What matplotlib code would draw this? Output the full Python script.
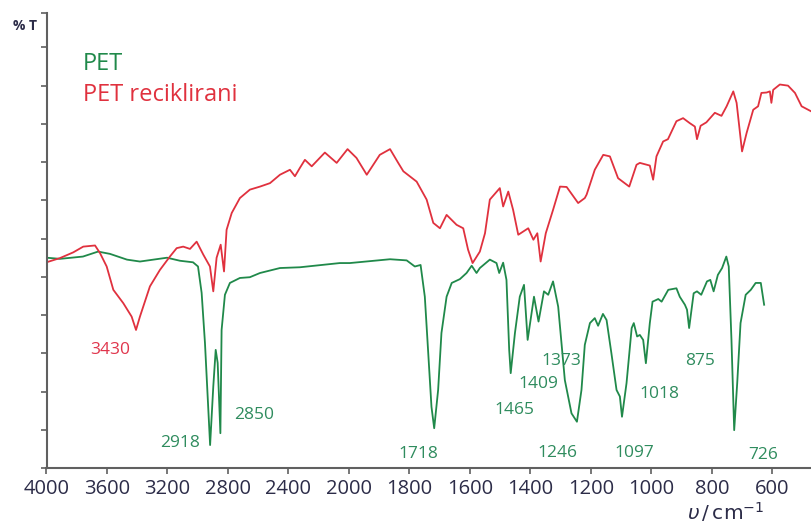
import numpy as np
import matplotlib.pyplot as plt
from matplotlib.scale import FuncScale

# PET spectrum (wavenumber cm-1, %T)
pet_wn = [4000, 3911, 3759, 3659, 3580, 3468, 3382, 3203, 3117, 3031, 2998, 2974,
          2952, 2918, 2897, 2881, 2868, 2850, 2842, 2820, 2787, 2721, 2655, 2588,
          2456, 2324, 2060, 1997, 1864, 1809, 1782, 1763, 1749, 1743, 1727, 1718,
          1705, 1694, 1677, 1660, 1633, 1611, 1594, 1578, 1567, 1534, 1512, 1503,
          1490, 1479, 1470, 1465, 1451, 1435, 1421, 1409, 1388, 1373, 1355, 1341,
          1325, 1308, 1286, 1264, 1246, 1231, 1220, 1203, 1187, 1176, 1160, 1148,
          1132, 1115, 1104, 1097, 1082, 1065, 1058, 1047, 1038, 1027, 1018, 1005,
          996, 977, 966, 944, 917, 906, 889, 882, 875, 860, 849, 835, 816, 805,
          794, 780, 766, 752, 744, 735, 726, 716, 705, 688, 671, 655, 638, 627]
pet_t = [55.0, 54.7, 55.3, 56.6, 56.0, 54.5, 54.0, 55.0, 54.2, 53.8, 52.7, 45.8,
         32.7, 6.0, 21.3, 30.9, 27.5, 9.1, 36.1, 45.3, 48.4, 49.7, 49.9, 51.0,
         52.3, 52.5, 53.6, 53.6, 54.6, 54.3, 52.7, 53.1, 44.8, 37.0, 16.0, 10.4,
         20.4, 35.3, 44.8, 48.4, 49.4, 51.0, 52.9, 51.0, 52.3, 54.5, 53.6, 51.0,
         53.7, 49.2, 30.9, 24.8, 35.3, 44.8, 47.9, 33.5, 44.8, 38.3, 46.2, 45.3,
         48.8, 42.2, 23.0, 14.3, 12.1, 20.4, 32.2, 37.9, 39.2, 37.2, 40.3, 38.7,
         30.0, 20.4, 18.7, 13.4, 22.2, 36.6, 37.9, 34.4, 34.8, 33.5, 27.4, 37.9,
         43.5, 44.2, 43.5, 46.6, 47.0, 44.8, 42.7, 41.4, 36.6, 45.7, 46.2, 45.3,
         48.8, 49.2, 46.2, 50.5, 52.3, 55.3, 52.7, 33.5, 9.9, 22.2, 37.9, 45.3,
         46.6, 48.4, 48.4, 42.7]

# recycled PET spectrum
rec_wn = [4000, 3911, 3823, 3757, 3679, 3646, 3602, 3558, 3492, 3437, 3408, 3382,
          3316, 3250, 3184, 3139, 3096, 3051, 3007, 2963, 2919, 2897, 2875, 2848,
          2826, 2809, 2775, 2721, 2655, 2588, 2522, 2456, 2390, 2357, 2324, 2291,
          2246, 2159, 2081, 2009, 1975, 1941, 1898, 1864, 1837, 1820, 1776, 1743,
          1721, 1699, 1677, 1644, 1622, 1606, 1591, 1567, 1550, 1534, 1501, 1490,
          1473, 1457, 1440, 1407, 1390, 1377, 1366, 1349, 1325, 1302, 1280, 1242,
          1220, 1214, 1187, 1159, 1137, 1110, 1073, 1049, 1038, 1005, 994, 983,
          961, 945, 917, 895, 873, 856, 849, 837, 818, 790, 768, 751, 729, 718,
          700, 685, 663, 647, 636, 619, 608, 603, 597, 575, 548, 525, 503, 472]
rec_t = [53.8, 54.9, 56.4, 57.9, 58.2, 56.2, 52.7, 46.6, 43.1, 39.6, 36.1, 39.6,
         47.5, 51.8, 55.3, 57.5, 57.9, 57.3, 59.2, 55.8, 52.7, 46.2, 55.0, 58.4,
         51.4, 62.3, 66.7, 70.6, 72.8, 73.6, 74.5, 76.7, 78.0, 76.3, 78.5, 80.6,
         78.9, 82.5, 79.8, 83.4, 81.1, 76.7, 81.9, 83.4, 79.8, 77.6, 74.9, 70.2,
         64.1, 62.7, 66.2, 63.6, 62.7, 57.1, 53.6, 56.6, 61.4, 70.2, 73.2, 68.4,
         72.3, 67.5, 61.0, 62.7, 59.7, 61.4, 54.0, 61.4, 67.5, 73.6, 73.5, 69.3,
         70.6, 71.5, 78.0, 81.9, 81.5, 75.8, 73.6, 79.3, 79.8, 79.1, 75.4, 81.5,
         85.4, 86.0, 90.7, 91.5, 90.2, 89.3, 86.0, 89.5, 90.4, 92.9, 92.1, 94.6,
         98.5, 95.5, 82.8, 87.6, 93.7, 94.6, 98.1, 98.2, 98.5, 95.5, 98.9, 100.3,
         100.0, 98.1, 94.6, 93.3]

# peak labels: text, wavenumber, %T of text centre
pet_labels = ['2918', '2850', '1718', '1465', '1409', '1373', '1246', '1097', '1018', '875', '726']
pet_label_wn = [3117, 2628, 1770, 1453, 1374, 1297, 1309, 1055, 973, 839, 630]
pet_label_t = [6.5, 13.9, 3.6, 15.2, 22.0, 28.1, 3.8, 3.8, 19.4, 28.1, 3.4]
rec_labels = ['3430']
rec_label_wn = [3580]
rec_label_t = [30.9]

xticks = [4000, 3600, 3200, 2800, 2400, 2000, 1800, 1600, 1400, 1200, 1000, 800, 600]

green = '#20894a'
red = '#e0313e'
txt_green = '#2f8c5e'
txt_red = '#e0354c'
dark = '#2c2c48'

plt.rcParams['font.family'] = ['Open Sans', 'DejaVu Sans']


# 4000-2000 compressed twice compared to 2000-400
def fwd(x):
    x = np.asarray(x, dtype=float)
    return np.where(x >= 2000, (x - 2000) / 400, (x - 2000) / 200)


def inv(u):
    u = np.asarray(u, dtype=float)
    return np.where(u >= 0, 2000 + 400 * u, 2000 + 200 * u)


fig = plt.figure(figsize=(8.11, 5.29), dpi=100)
ax = fig.add_axes([46.5 / 811, 1 - 468 / 529, 1 - 46.5 / 811, (468 - 13) / 529])
ax.set_xscale(FuncScale(ax, (fwd, inv)))

ax.plot(pet_wn, pet_t, color=green, lw=1.3)
ax.plot(rec_wn, rec_t, color=red, lw=1.3)

for s, w, t in zip(pet_labels, pet_label_wn, pet_label_t):
    ax.text(w, t, s, color=txt_green, fontsize=12.5, ha='center', va='center')
for s, w, t in zip(rec_labels, rec_label_wn, rec_label_t):
    ax.text(w, t, s, color=txt_red, fontsize=12.5, ha='center', va='center')

ax.set_xlim(4000, 472)
ax.set_ylim(0, 119)
ax.set_xticks(xticks)
ax.set_xticklabels([str(v) for v in xticks])
ax.set_yticks(list(range(0, 111, 10)) + [119])
ax.set_yticklabels([])
ax.minorticks_off()

for side in ['top', 'right']:
    ax.spines[side].set_visible(False)
for side in ['left', 'bottom']:
    ax.spines[side].set_color('#606060')
    ax.spines[side].set_linewidth(1.5)
ax.tick_params(axis='both', colors='#606060', length=4, width=1.2)
ax.tick_params(axis='x', labelsize=14.5, labelcolor=dark, pad=4)

fig.text(83 / 811, 1 - 70 / 529, 'PET', color=green, fontsize=17, va='baseline')
fig.text(83 / 811, 1 - 101 / 529, 'PET reciklirani', color=red, fontsize=17, va='baseline')
fig.text(13 / 811, 1 - 26 / 529, '% T', color=dark, fontsize=10, fontweight='bold', va='center')
fig.text(726 / 811, 1 - 513 / 529, r'$\mathit{\upsilon}\,/\,\mathrm{cm^{-1}}$', color=dark,
         fontsize=14.5, ha='center', va='center')

fig.savefig('out.png', dpi=100)
